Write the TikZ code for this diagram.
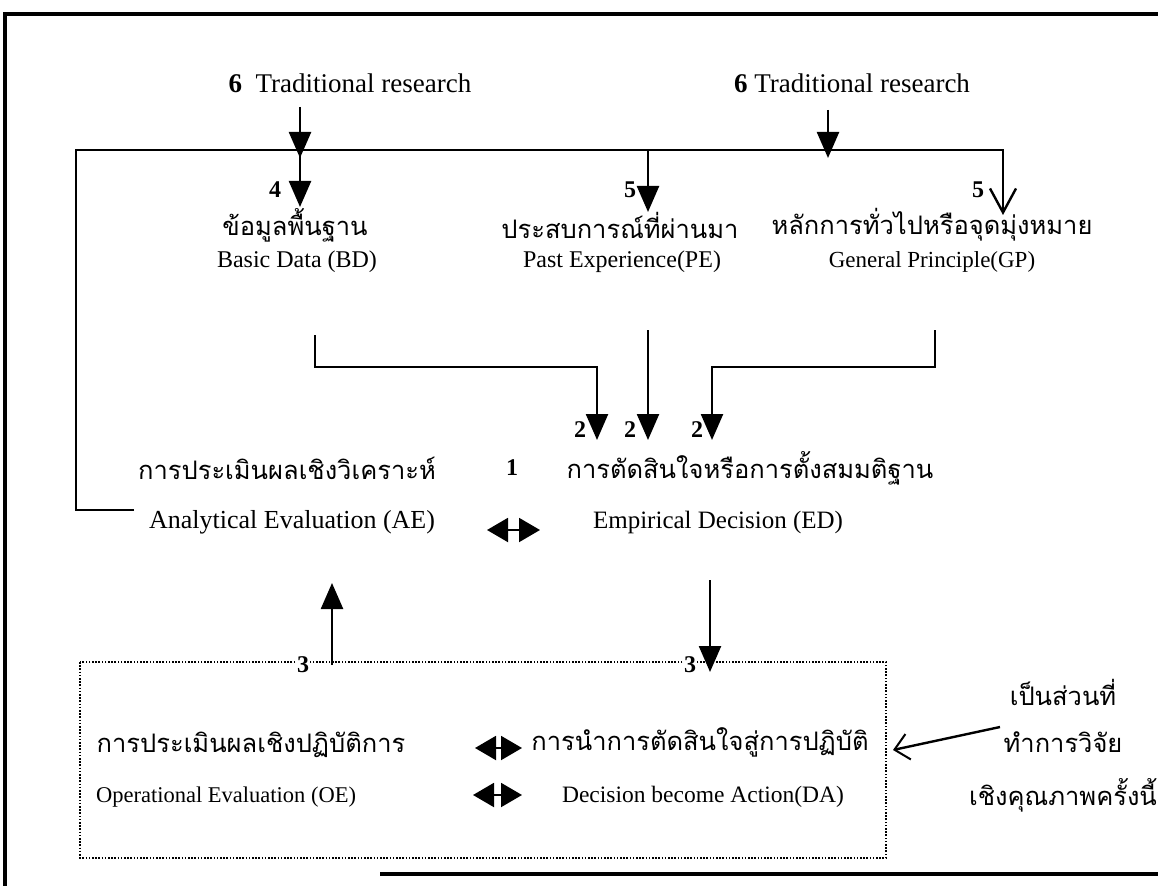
\documentclass[tikz,border=0pt]{standalone}
\usepackage{fontspec}
\setmainfont{Liberation Serif}
\newfontfamily\thai[Script=Thai]{Loma}
\usetikzlibrary{arrows.meta}
\begin{document}
\begin{tikzpicture}[x=1pt,y=-1pt,
  en/.style={font=\fontsize{24}{26}\selectfont, inner sep=0pt, anchor=center},
  big/.style={font=\fontsize{27}{29}\selectfont, inner sep=0pt, anchor=center},
  th/.style={font=\thai\fontsize{25.5}{28}\selectfont, inner sep=0pt, anchor=center},
  num/.style={font=\bfseries\fontsize{24}{26}\selectfont, inner sep=0pt},
  conn/.style={line width=2.4pt},
  farrow/.style={conn,-{Triangle[length=26pt,width=22pt]}},
  oarrow/.style={conn,-{Straight Barb[length=24pt,width=26pt,line width=2.4pt]}},
  darrow/.style={line width=2pt,{Triangle[length=21pt,width=24pt]}-{Triangle[length=21pt,width=24pt]}},
  frame/.style={line width=3.2pt},
  dotbox/.style={line width=1.3pt, dash pattern=on 1.6pt off 1.6pt}
]
\useasboundingbox (0,0) rectangle (1158,890);
% outer frame
\draw[frame] (1158,14) -- (5,14) -- (5,886);
\draw[frame] (380,874) -- (1158,874);
% top texts
\node[big] (tr1) at (350,83) {\textbf{6}\ \ Traditional research};
\node[big] (tr2) at (852,83) {\textbf{6} Traditional research};
% labels
\node[th] (bdT) at (295,225) {ข้อมูลพื้นฐาน};
\node[en] (bdE) at (297,262) {Basic Data (BD)};
\node[th] (peT) at (620,225) {ประสบการณ์ที่ผ่านมา};
\node[en] (peE) at (622,262) {Past Experience(PE)};
\node[th] (gpT) at (932,225) {หลักการทั่วไปหรือจุดมุ่งหมาย};
\node[en, font=\fontsize{23}{25}\selectfont] (gpE) at (932,262) {General Principle(GP)};
\node[th] (aeT) at (287,468) {การประเมินผลเชิงวิเคราะห์};
\node[en, font=\fontsize{26}{28}\selectfont] (aeE) at (292,522) {Analytical Evaluation (AE)};
\node[th] (edT) at (750,468) {การตัดสินใจหรือการตั้งสมมติฐาน};
\node[en, font=\fontsize{25}{27}\selectfont] (edE) at (718,522) {Empirical Decision (ED)};
\node[th] (oeT) at (251,745) {การประเมินผลเชิงปฏิบัติการ};
\node[en, font=\fontsize{22.5}{25}\selectfont] (oeE) at (226,797) {Operational Evaluation (OE)};
\node[th] (daT) at (700,742) {การนำการตัดสินใจสู่การปฏิบัติ};
\node[en, font=\fontsize{23.5}{25}\selectfont] (daE) at (703,797) {Decision become Action(DA)};
\node[th] (r1) at (1063,692) {เป็นส่วนที่};
\node[th] (r2) at (1063,742) {ทำการวิจัย};
\node[th] (r3) at (1063,795) {เชิงคุณภาพครั้งนี้};
% numbers
\node[num] (n4) at (275,190) {4};
\node[num] (n5a) at (630,190) {5};
\node[num] (n5b) at (978,190) {5};
\node[num] (n2a) at (580,430) {2};
\node[num] (n2b) at (630,430) {2};
\node[num] (n2c) at (697,430) {2};
\node[num] (n1) at (512,468) {1};
% coordinates
\coordinate (t6a) at (300,107);
\coordinate (t6b) at (828,110);
\coordinate (h4) at (300,150);
\coordinate (h6) at (828,150);
\coordinate (h5) at (648,150);
\coordinate (e4) at (300,207);
\coordinate (e5) at (648,212);
\coordinate (e5b) at (1003,215);
\coordinate (loopS) at (134,510);
\coordinate (loopC) at (76,150);
\coordinate (bdS) at (315,335);
\coordinate (bdH) at (597,367);
\coordinate (bdA) at (597,440);
\coordinate (peS) at (648,330);
\coordinate (peA) at (648,440);
\coordinate (gpS) at (935,330);
\coordinate (gpH) at (712,367);
\coordinate (gpA) at (712,440);
\coordinate (upS) at (332,665);
\coordinate (upE) at (332,583);
\coordinate (dnS) at (710,580);
\coordinate (dnE) at (710,672);
\coordinate (annS) at (1000,727);
\coordinate (annE) at (893,750);
% dotted box
\draw[dotbox] (80,662) rectangle (886,858);
\node[num, fill=white, inner sep=1pt] (n3a) at (303,665) {3};
\node[num, fill=white, inner sep=1pt] (n3b) at (690,665) {3};
% connectors
\draw[farrow] (t6a) -- ([yshift=-8pt]h4);
\draw[farrow] (t6b) -- ([yshift=-8pt]h6);
\draw[farrow] (h4) -- (e4);
\draw[farrow] (h5) -- (e5);
\draw[oarrow] (loopS) -| (loopC) -| (e5b);
\draw[farrow] (bdS) |- (bdH) -- (bdA);
\draw[farrow] (peS) -- (peA);
\draw[farrow] (gpS) |- (gpH) -- (gpA);
\draw[farrow] (upS) -- (upE);
\draw[farrow] (dnS) -- (dnE);
\draw[darrow] (487,530) -- (540,530);
\draw[darrow] (475,748) -- (522,748);
\draw[darrow] (473,795) -- (522,795);
\draw[conn,-{Straight Barb[length=14pt,width=26pt,line width=2pt]}] (annS) -- (annE);
\end{tikzpicture}
\end{document}
